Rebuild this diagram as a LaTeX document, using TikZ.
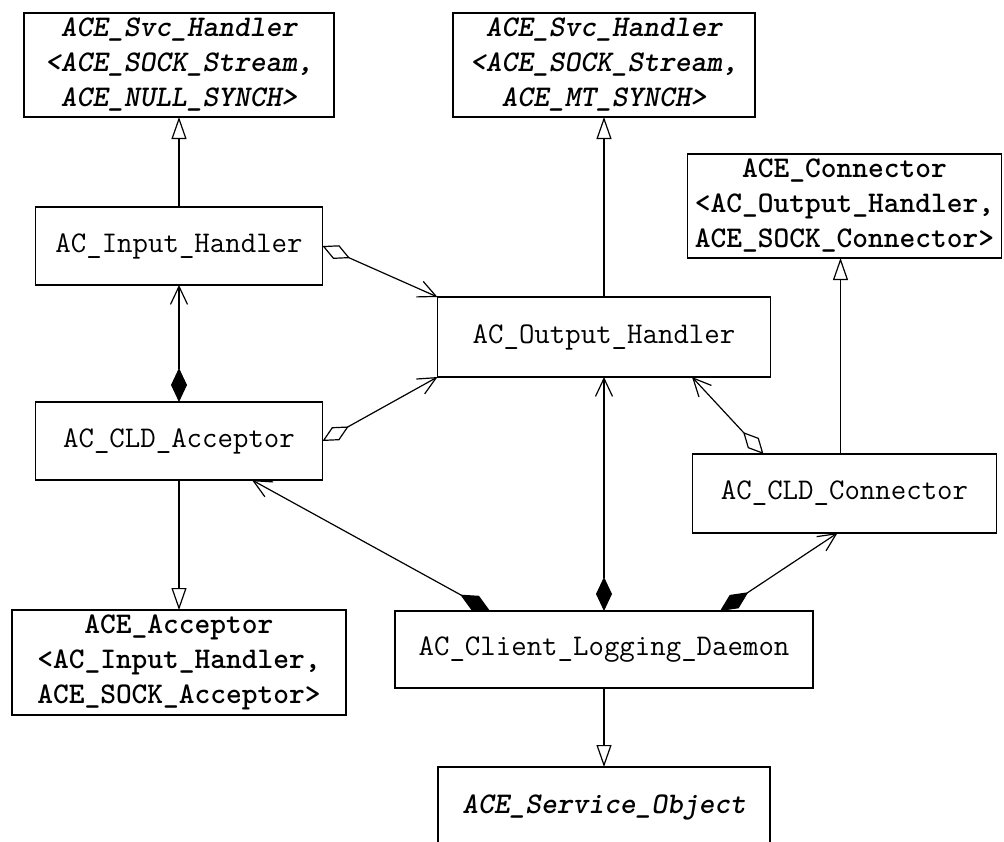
\documentclass[tikz,border=0pt]{standalone}
\usepackage{tikz}
\usetikzlibrary{
    arrows.meta,
    positioning
}
\newcommand{\umlfont}{\ttfamily\fontsize{30}{35}\selectfont}
\tikzset{
    classbox/.style={
        rectangle,
        draw=black,
        line width=1.4pt,
        align=center,
        inner sep=0pt,
        outer sep=0pt,
        minimum height=78pt,
        font=\umlfont
    },
    tmplbox/.style={
        classbox,
        minimum height=104pt,
        font=\umlfont\bfseries
    },
    abstractbox/.style={
        tmplbox,
        font=\umlfont\bfseries\slshape
    },
    inherit/.style={
        -{Triangle[open, length=22pt, width=15pt]},
        line width=1.2pt
    },
    aggregate/.style={
        {Diamond[open, length=30pt, width=15pt]}-{Straight Barb[length=18pt, width=17pt]},
        line width=1.2pt
    },
    compose/.style={
        {Diamond[length=34pt, width=16pt]}-{Straight Barb[length=18pt, width=17pt]},
        line width=1.2pt
    }
}

\begin{document}
\begin{tikzpicture}[x=1pt, y=1pt]
\useasboundingbox (0,0) rectangle (1004,-841);

% template base classes on top
\node[abstractbox, minimum width=310pt] (svcnull) at (179,-65)
    {ACE\_Svc\_Handler\\<ACE\_SOCK\_Stream,\\ACE\_NULL\_SYNCH>};
\node[abstractbox, minimum width=302pt, right=119pt of svcnull] (svcmt)
    {ACE\_Svc\_Handler\\<ACE\_SOCK\_Stream,\\ACE\_MT\_SYNCH>};

% left column
\node[classbox, minimum width=287pt, below=90pt of svcnull] (inh) {AC\_Input\_Handler};
\node[classbox, minimum width=287pt, below=117pt of inh] (acc) {AC\_CLD\_Acceptor};
\node[tmplbox, minimum width=334pt, minimum height=105pt, below=130pt of acc] (aceacc)
    {ACE\_Acceptor\\<AC\_Input\_Handler,\\ACE\_SOCK\_Acceptor>};

% middle column
\node[classbox, minimum width=333pt, minimum height=80pt, below=180pt of svcmt] (outh) {AC\_Output\_Handler};
\node[classbox, minimum width=418pt, minimum height=77pt, below=234pt of outh] (daemon) {AC\_Client\_Logging\_Daemon};
\node[abstractbox, minimum width=332pt, minimum height=80pt, below=79pt of daemon] (svcobj) {ACE\_Service\_Object};

% right column
\node[classbox, minimum width=304pt, minimum height=79pt, below right=77pt and -78pt of outh] (cldcon) {AC\_CLD\_Connector};
\node[tmplbox, minimum width=314pt, above=196pt of cldcon] (acecon)
    {ACE\_Connector\\<AC\_Output\_Handler,\\ACE\_SOCK\_Connector>};

% generalisation
\draw[inherit] (inh) -- (svcnull);
\draw[inherit] (outh) -- (svcmt);
\draw[inherit] ([xshift=-4pt]cldcon.north) -- ([xshift=-4pt]acecon.south);
\draw[inherit] (acc) -- (aceacc);
\draw[inherit] (daemon) -- (svcobj);

% aggregation
\draw[aggregate] (inh.east) -- (outh.north west);
\draw[aggregate] (acc.east) -- (outh.south west);
\draw[aggregate] ([xshift=-81pt]cldcon.north) -- ([xshift=88pt]outh.south);

% composition
\draw[compose] (acc) -- (inh);
\draw[compose] ([xshift=-114pt]daemon.north) -- ([xshift=73pt]acc.south);
\draw[compose] (daemon) -- (outh);
\draw[compose] ([xshift=116pt]daemon.north) -- ([xshift=-7pt]cldcon.south);

\end{tikzpicture}
\end{document}
